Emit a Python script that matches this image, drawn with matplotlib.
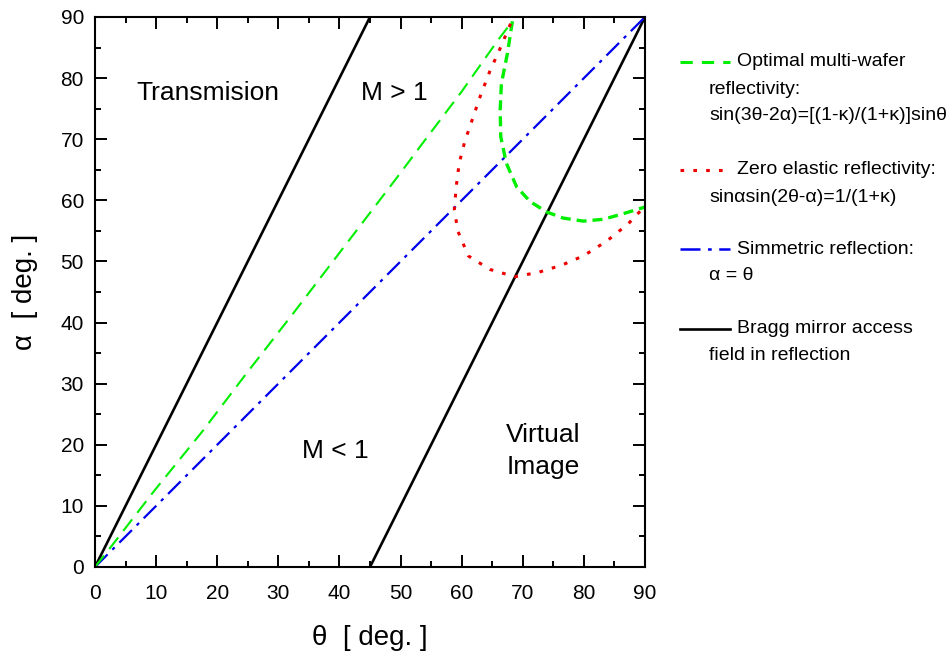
import matplotlib
matplotlib.use("Agg")
import matplotlib.pyplot as plt
from matplotlib.lines import Line2D
import numpy as np

plt.rcParams['font.family'] = ['Liberation Sans', 'DejaVu Sans']

# Data (degrees)
bragg1_theta = [0, 45]
bragg1_alpha = [0, 90]
bragg2_theta = [45, 90]
bragg2_alpha = [0, 90]
sym_theta = [0, 90]
sym_alpha = [0, 90]

green_line_theta = [0, 2.45, 9.8, 17.5, 24.8, 32.2, 40, 50, 53.2, 60, 66, 68.3]
green_line_alpha = [0, 3.1, 12.6, 22.1, 31.7, 41.2, 51.4, 64.5, 68.8, 77.8, 86.3, 89.3]

green_curve_theta = [68.3, 67.5, 66.5, 66.3, 66.4, 67.3, 69.0, 71.2, 73.9, 76.6, 79.9, 83.2, 86.4, 90.0]
green_curve_alpha = [89.3, 84.1, 79.1, 74.8, 70.4, 66.1, 62.2, 59.8, 58.1, 57.1, 56.6, 56.9, 57.8, 58.9]

red_theta = [68.0, 66.4, 64.6, 63.1, 61.8, 60.5, 59.6, 59.1, 58.8, 59.4, 61.1, 64.6, 68.7,
             72.5, 76.4, 79.9, 83.7, 87.3, 88.9, 90.0]
red_alpha = [88.9, 85.1, 81.1, 77.2, 73.4, 69.6, 66.1, 62.2, 58.4, 54.9, 50.9, 48.7, 47.5,
             48.2, 49.4, 50.9, 53.3, 56.2, 57.9, 59.0]

W, H = 951, 656
fig = plt.figure(figsize=(W / 100, H / 100), dpi=100)
ax = fig.add_axes([95 / W, (H - 567) / H, 550 / W, 550 / H])

green = '#00ee00'
blue_dash = (8, 3, 1.5, 3)
red_dash = (1.2, 3.0)
green_curve_dash = (3, 1.8)
ax.plot(bragg1_theta, bragg1_alpha, color='black', lw=1.9, solid_capstyle='butt')
ax.plot(bragg2_theta, bragg2_alpha, color='black', lw=1.9, solid_capstyle='butt')
ax.plot(sym_theta, sym_alpha, color='#0000ee', lw=1.6, dashes=blue_dash)
ax.plot(green_line_theta, green_line_alpha, color=green, lw=1.5, dashes=(7, 4))
ax.plot(green_curve_theta, green_curve_alpha, color=green, lw=2.4, dashes=green_curve_dash)
ax.plot(red_theta, red_alpha, color='#ee0000', lw=2.2, dashes=red_dash)

ax.set_xlim(0, 90)
ax.set_ylim(0, 90)
ax.set_xticks(np.arange(0, 91, 10))
ax.set_yticks(np.arange(0, 91, 10))
ax.set_xticks(np.arange(0, 91, 5), minor=True)
ax.set_yticks(np.arange(0, 91, 5), minor=True)
ax.tick_params(which='both', direction='in', top=True, right=True, width=1.4, colors='black')
ax.tick_params(which='major', length=8.5)
ax.tick_params(which='minor', length=4.3)
ax.tick_params(axis='x', which='major', labelsize=15, pad=12)
ax.tick_params(axis='y', which='major', labelsize=15, pad=8)
for s in ax.spines.values():
    s.set_linewidth(1.5)

ax.set_xlabel('θ  [ deg. ]', fontsize=20, labelpad=16)
ax.set_ylabel('α  [ deg. ]', fontsize=20, labelpad=16)

ax.text(18.5, 77.5, 'Transmision', fontsize=19, ha='center', va='center')
ax.text(49, 77.5, 'M > 1', fontsize=19, ha='center', va='center')
ax.text(39.3, 19.0, 'M < 1', fontsize=19, ha='center', va='center')
ax.text(73.3, 19.0, 'Virtual\nImage', fontsize=19, ha='center', va='center', linespacing=1.4)

# Legend drawn manually (pixel coordinates from top-left)
def fx(px):
    return px / W

def fy(py):
    return 1 - py / H

legend_items = [
    (62, dict(color=green, lw=2.2, dashes=(4, 3)),
     ['Optimal multi-wafer', 'reflectivity:', 'sin(3θ-2α)=[(1-κ)/(1+κ)]sinθ']),
    (170, dict(color='#ee0000', lw=2.2, dashes=red_dash),
     ['Zero elastic reflectivity:', 'sinαsin(2θ-α)=1/(1+κ)']),
    (249, dict(color='#0000ee', lw=1.8, dashes=blue_dash),
     ['Simmetric reflection:', 'α = θ']),
    (329, dict(color='black', lw=1.9),
     ['Bragg mirror access', 'field in reflection']),
]
for ly, style, lines in legend_items:
    fig.add_artist(Line2D([fx(680), fx(730)], [fy(ly), fy(ly)], transform=fig.transFigure, **style))
    fig.text(fx(737), fy(ly), lines[0], fontsize=14, ha='left', va='center')
    for i, t in enumerate(lines[1:]):
        fig.text(fx(709), fy(ly + 27 * (i + 1)), t, fontsize=14, ha='left', va='center')

fig.savefig('out.png', dpi=100)
